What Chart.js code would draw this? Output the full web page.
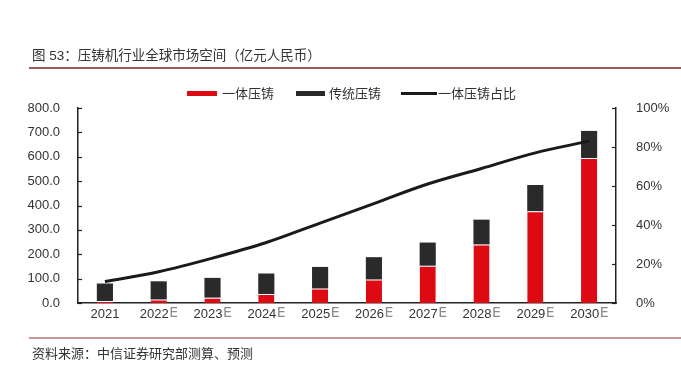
<!DOCTYPE html>
<html>
<head>
<meta charset="utf-8">
<script src="https://cdn.jsdelivr.net/npm/chart.js@4/dist/chart.umd.min.js"></script>
<style>
  html, body { margin: 0; padding: 0; background: #fff; }
  body { width: 681px; height: 375px; position: relative; overflow: hidden;
         font-family: "Liberation Sans", "Noto Sans CJK SC", sans-serif; color: #333; }
  #c { position: absolute; left: 0; top: 0; }
  .abs { position: absolute; white-space: nowrap; }
  #title { left: 32px; top: 44px; font-size: 13.5px; color: #333; }
  #tline { left: 29px; top: 67px; width: 652px; height: 2px; background: #9a5a58; }
  #bline { left: 29px; top: 337px; width: 652px; height: 2px; background: #c99597; }
  #src { left: 32px; top: 343px; font-size: 13px; color: #333; }
  .sw { position: absolute; }
  .lg { position: absolute; font-size: 13px; color: #333; top: 83px; }
</style>
</head>
<body>
<canvas id="c" width="681" height="375"></canvas>
<div id="title" class="abs">图 53：压铸机行业全球市场空间（亿元人民币）</div>
<div id="tline" class="abs"></div>
<div class="sw" style="left:187px;top:91px;width:30px;height:5px;background:#DD0A14"></div>
<div class="lg" style="left:222px">一体压铸</div>
<div class="sw" style="left:296px;top:91px;width:29px;height:5px;background:#2a2a2a"></div>
<div class="lg" style="left:329px">传统压铸</div>
<div class="sw" style="left:401px;top:92px;width:36px;height:3px;background:#1a1a1a"></div>
<div class="lg" style="left:438px">一体压铸占比</div>
<div id="bline" class="abs"></div>
<div id="src" class="abs">资料来源：中信证券研究部测算、预测</div>
<script>
const categories = ['2021','2022E','2023E','2024E','2025E','2026E','2027E','2028E','2029E','2030E'];
const integratedCasting = [8, 14, 22, 37, 59, 96, 153, 240, 376, 595];
const traditionalCasting = [72, 75, 81, 84, 89, 92, 95, 102, 108, 111];
const integratedShare = [11, 16, 23, 31, 41, 51, 61, 69, 77, 83];
const leftTicks = [0, 100, 200, 300, 400, 500, 600, 700, 800];
const rightTicks = [0, 20, 40, 60, 80, 100];

const FONT = '"Liberation Sans", "Noto Sans CJK SC", sans-serif';

const innerTicks = {
  id: 'innerTicks',
  afterDraw(chart) {
    const ctx = chart.ctx;
    const y = chart.scales.y, y1 = chart.scales.y1, x = chart.scales.x;
    ctx.save();
    ctx.strokeStyle = '#222';
    ctx.lineWidth = 1.2;
    leftTicks.forEach(v => {
      const py = Math.round(y.getPixelForValue(v)) + 0.5;
      ctx.beginPath(); ctx.moveTo(y.right, py); ctx.lineTo(y.right + 4, py); ctx.stroke();
    });
    rightTicks.forEach(v => {
      const py = Math.round(y1.getPixelForValue(v)) + 0.5;
      ctx.beginPath(); ctx.moveTo(y1.left, py); ctx.lineTo(y1.left - 4, py); ctx.stroke();
    });
    ctx.textBaseline = 'middle';
    categories.forEach((lab, i) => {
      const cx = x.getPixelForValue(i);
      const hasE = lab.endsWith('E');
      const year = hasE ? lab.slice(0, -1) : lab;
      ctx.font = '13px ' + FONT;
      const wy = ctx.measureText(year).width;
      let we = 0;
      if (hasE) { ctx.font = '14px "DejaVu Sans", sans-serif'; we = ctx.measureText('E').width; }
      const start = cx - (wy + we) / 2;
      ctx.font = '13px ' + FONT;
      ctx.fillStyle = '#333';
      ctx.textAlign = 'left';
      ctx.fillText(year, start, 314);
      if (hasE) {
        ctx.font = '14px "DejaVu Sans", sans-serif';
        ctx.fillStyle = '#8a8a8a';
        ctx.fillText('E', start + wy + 0.5, 313);
      }
    });
    ctx.restore();
  }
};

new Chart(document.getElementById('c'), {
  data: {
    labels: categories,
    datasets: [
      {
        type: 'line', label: '一体压铸占比', data: integratedShare, yAxisID: 'y1',
        borderColor: '#1a1a1a', borderWidth: 3, pointRadius: 0, tension: 0.4,
        cubicInterpolationMode: 'monotone', order: 0
      },
      {
        type: 'bar', label: '一体压铸', data: integratedCasting, yAxisID: 'y', stack: 's',
        backgroundColor: '#DD0A14', borderColor: '#ffffff',
        borderWidth: {top: 1, left: 0, right: 0, bottom: 0}, borderSkipped: 'start',
        barPercentage: 0.3, categoryPercentage: 1, order: 1
      },
      {
        type: 'bar', label: '传统压铸', data: traditionalCasting, yAxisID: 'y', stack: 's',
        backgroundColor: '#2a2a2a', borderWidth: 0,
        barPercentage: 0.3, categoryPercentage: 1, order: 2
      }
    ]
  },
  options: {
    responsive: false,
    animation: false,
    devicePixelRatio: 1,
    layout: { padding: { top: 108, bottom: 52, left: 0, right: 0 } },
    plugins: { legend: { display: false }, tooltip: { enabled: false }, title: { display: false } },
    scales: {
      x: {
        stacked: true, offset: true,
        grid: { display: false },
        border: { display: true, color: '#222', width: 1.5 },
        ticks: { display: false },
        afterFit: s => { s.height = 20; }
      },
      y: {
        position: 'left', stacked: true, min: 0, max: 800,
        afterBuildTicks: s => { s.ticks = leftTicks.map(v => ({ value: v })); },
        grid: { display: false },
        border: { display: true, color: '#222', width: 1.5 },
        ticks: { padding: 10, color: '#333', font: { size: 13, family: FONT },
                 callback: v => Number(v).toFixed(1) },
        afterFit: s => { s.width = 78; }
      },
      y1: {
        position: 'right', min: 0, max: 100,
        afterBuildTicks: s => { s.ticks = rightTicks.map(v => ({ value: v })); },
        grid: { display: false },
        border: { display: true, color: '#222', width: 1.5 },
        ticks: { padding: 12, color: '#333', font: { size: 13, family: FONT },
                 callback: v => v + '%' },
        afterFit: s => { s.width = 65; }
      }
    }
  },
  plugins: [innerTicks]
});
</script>
</body>
</html>
